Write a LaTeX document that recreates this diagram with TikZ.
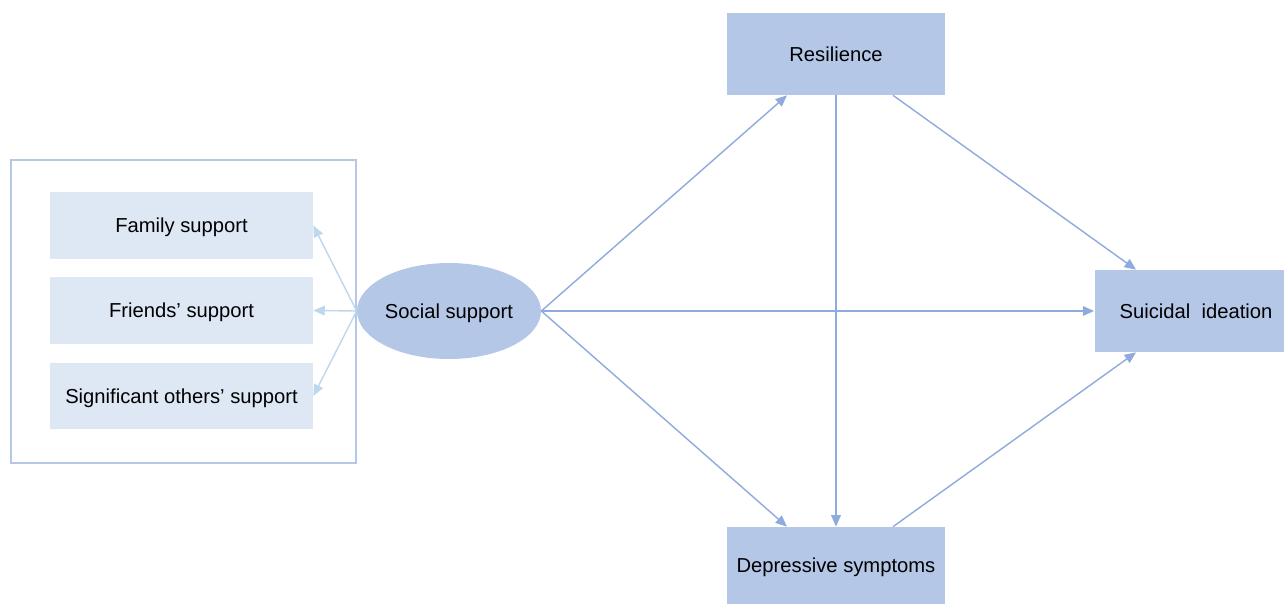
\documentclass[tikz,border=0pt]{standalone}
\usepackage{fontspec}
\setmainfont{Liberation Sans}
\usepackage{xcolor}
\definecolor{Col1}{RGB}{180,199,231}
\definecolor{Col2}{RGB}{143,170,220}
\definecolor{Col3}{RGB}{221,232,244}
\definecolor{Col4}{RGB}{189,215,238}
\usepackage{tikz}
\usetikzlibrary{shapes}
\usetikzlibrary{fit}
\usetikzlibrary{calc}
\usetikzlibrary{arrows.meta}
\tikzstyle{Box}=[rectangle,fill=Col1,inner sep=0pt,text height=10.6pt,
text depth=2.4pt,font=\fontsize{11.5}{13}\selectfont]
\tikzstyle{SubBox}=[Box,fill=Col3,minimum width=5.26cm,minimum height=1.34cm]
\tikzstyle{Oval}=[ellipse,fill=Col1,inner sep=0pt,minimum width=3.68cm,
minimum height=1.92cm,text height=10.6pt,text depth=2.4pt,
font=\fontsize{11.5}{13}\selectfont]
\tikzstyle{Frame}=[rectangle,draw=Col1,line width=.9pt,inner sep=0pt]
\tikzstyle{Edge}=[draw=Col2,line width=.8pt,-{Triangle[length=6.5pt,width=5.5pt]}]
\tikzstyle{EdgeLight}=[Edge,draw=Col4,fill=Col4]

\begin{document}
\begin{tikzpicture}[x=.02cm,y=-.02cm]
        \useasboundingbox(0,0)rectangle(1284,605);
        \coordinate(fa)at(11,160);
        \coordinate(fb)at(356,463);
        \node[Frame,fit=(fa)(fb)](frame){};
        \node[SubBox](fam)at(181.5,225.5){Family support};
        \node[SubBox](fri)at(181.5,310.5){Friends’ support};
        \node[SubBox](sig)at(181.5,396){Significant others’ support};
        \node[Oval](ss)at(449,311){Social support};
        \node[Box,minimum width=4.36cm,minimum height=1.64cm](res)
            at(836,54){Resilience};
        \node[Box,minimum width=3.78cm,minimum height=1.64cm](sui)
            at(1189,311){\hspace*{8pt}Suicidal\ \ ideation};
        \node[Box,minimum width=4.36cm,minimum height=1.54cm](dep)
            at(836,565.5){Depressive symptoms};
        \draw[EdgeLight](ss.west)--(fam.east);
        \draw[EdgeLight](ss.west)--(fri.east);
        \draw[EdgeLight](ss.west)--(sig.east);
        \draw[Edge](ss.east)--($(res.south)+(-49,0)$);
        \draw[Edge](ss.east)--(sui.west);
        \draw[Edge](ss.east)--($(dep.north)+(-49,0)$);
        \draw[Edge](res.south)--(dep.north);
        \draw[Edge]($(res.south)+(57,0)$)--($(sui.north)+(-53,0)$);
        \draw[Edge]($(dep.north)+(57,0)$)--($(sui.south)+(-53,0)$);
    \end{tikzpicture}
\end{document}
